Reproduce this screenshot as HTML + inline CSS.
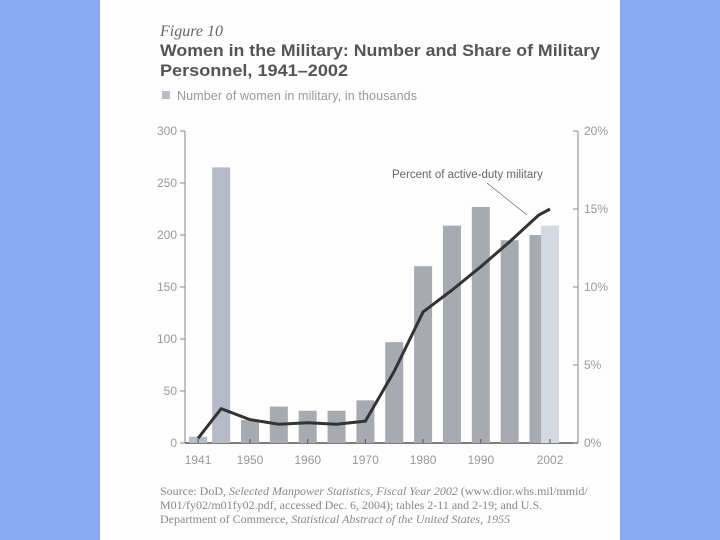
<!DOCTYPE html>
<html><head><meta charset="utf-8"><style>
body{margin:0;width:720px;height:540px;background:#87a9f6;overflow:hidden;}
#page{position:absolute;left:100px;top:0;width:520px;height:540px;background:#fdfdfd;}
svg{position:absolute;left:0;top:0;}
</style></head><body>
<div id="page"></div>
<svg id="chart" width="720" height="540" font-family="Liberation Sans, sans-serif">
<text x="160" y="36" font-family="Liberation Serif, serif" font-style="italic" font-size="16" fill="#666">Figure 10</text>
<text x="160" y="56" font-weight="bold" font-size="17" fill="#555" textLength="440" lengthAdjust="spacingAndGlyphs">Women in the Military: Number and Share of Military</text>
<text x="160" y="76" font-weight="bold" font-size="17" fill="#555" textLength="188" lengthAdjust="spacingAndGlyphs">Personnel, 1941–2002</text>
<rect x="162" y="91" width="8" height="8" fill="#b8bcc8"/>
<text x="177" y="100" font-size="12.5" fill="#999" textLength="240">Number of women in military, in thousands</text>
<g id="plot"></g>
<text x="160" y="495" font-family="Liberation Serif, serif" font-size="12" fill="#888">Source: DoD, <tspan font-style="italic">Selected Manpower Statistics, Fiscal Year 2002</tspan> (www.dior.whs.mil/mmid/</text>
<text x="160" y="509" font-family="Liberation Serif, serif" font-size="12" fill="#888">M01/fy02/m01fy02.pdf, accessed Dec. 6, 2004); tables 2-11 and 2-19; and U.S.</text>
<text x="160" y="523" font-family="Liberation Serif, serif" font-size="12" fill="#888">Department of Commerce, <tspan font-style="italic">Statistical Abstract of the United States, 1955</tspan></text>
</svg>
<script>
const years=[1941,1945,1950,1955,1960,1965,1970,1975,1980,1985,1990,1995,2000,2002];
const women=[6,265,22,35,31,31,41,97,170,209,227,195,200,209];
const percent=[0.3,2.2,1.5,1.2,1.3,1.2,1.4,4.6,8.4,9.8,11.3,12.9,14.6,15.0];
const leftTicks=[0,50,100,150,200,250,300];
const rightTicks=[0,5,10,15,20];
const xTickYears=[1941,1950,1960,1970,1980,1990,2002];
const NS='http://www.w3.org/2000/svg';
const g=document.getElementById('plot');
const x=y=>250+(y-1950)*5.77;
const yL=v=>443-v*1.04;
const yR=p=>443-p*15.6;
function el(t,a){const e=document.createElementNS(NS,t);for(const k in a)e.setAttribute(k,a[k]);g.appendChild(e);return e;}
let e;
e=el('line',{x1:185,y1:131,x2:185,y2:443,stroke:'#888','stroke-width':1});


e=el('line',{x1:578,y1:131,x2:578,y2:443,stroke:'#888','stroke-width':1});


e=el('line',{x1:185,y1:443,x2:578,y2:443,stroke:'#555','stroke-width':1.5});


leftTicks.forEach(v=>{
 el('line',{x1:180,y1:yL(v),x2:185,y2:yL(v),stroke:'#888'});
 e=el('text',{x:177,y:yL(v)+4,'text-anchor':'end','font-size':12,fill:'#999'});e.textContent=v;
 
 
});
rightTicks.forEach(v=>{
 el('line',{x1:573,y1:yR(v),x2:578,y2:yR(v),stroke:'#888'});
 e=el('text',{x:584,y:yR(v)+4,'font-size':12,fill:'#999'});e.textContent=v+'%';
 
 
});
years.forEach((yr,i)=>{
 const last=i===years.length-1;
 e=el('rect',{x:x(yr)-9,y:yL(women[i]),width:18,height:443-yL(women[i]),fill:last?'#d4d8e0':(yr<1950?'#b7bbc8':'#a8aab2')});
 
 
});
xTickYears.forEach(yr=>{
 el('line',{x1:x(yr),y1:439,x2:x(yr),y2:443,stroke:'#555'});
 e=el('text',{x:x(yr),y:464,'text-anchor':'middle','font-size':12,fill:'#999'});e.textContent=yr;
 
 
});
e=el('polyline',{points:years.map((yr,i)=>x(yr)+','+yR(percent[i])).join(' '),fill:'none',stroke:'#333','stroke-width':3,'stroke-linejoin':'round'});


e=el('text',{x:392,y:178,'font-size':11.5,fill:'#666'});e.textContent='Percent of active-duty military';


e=el('line',{x1:487,y1:183,x2:527,y2:215,stroke:'#666','stroke-width':0.7});


</script>
</body></html>
